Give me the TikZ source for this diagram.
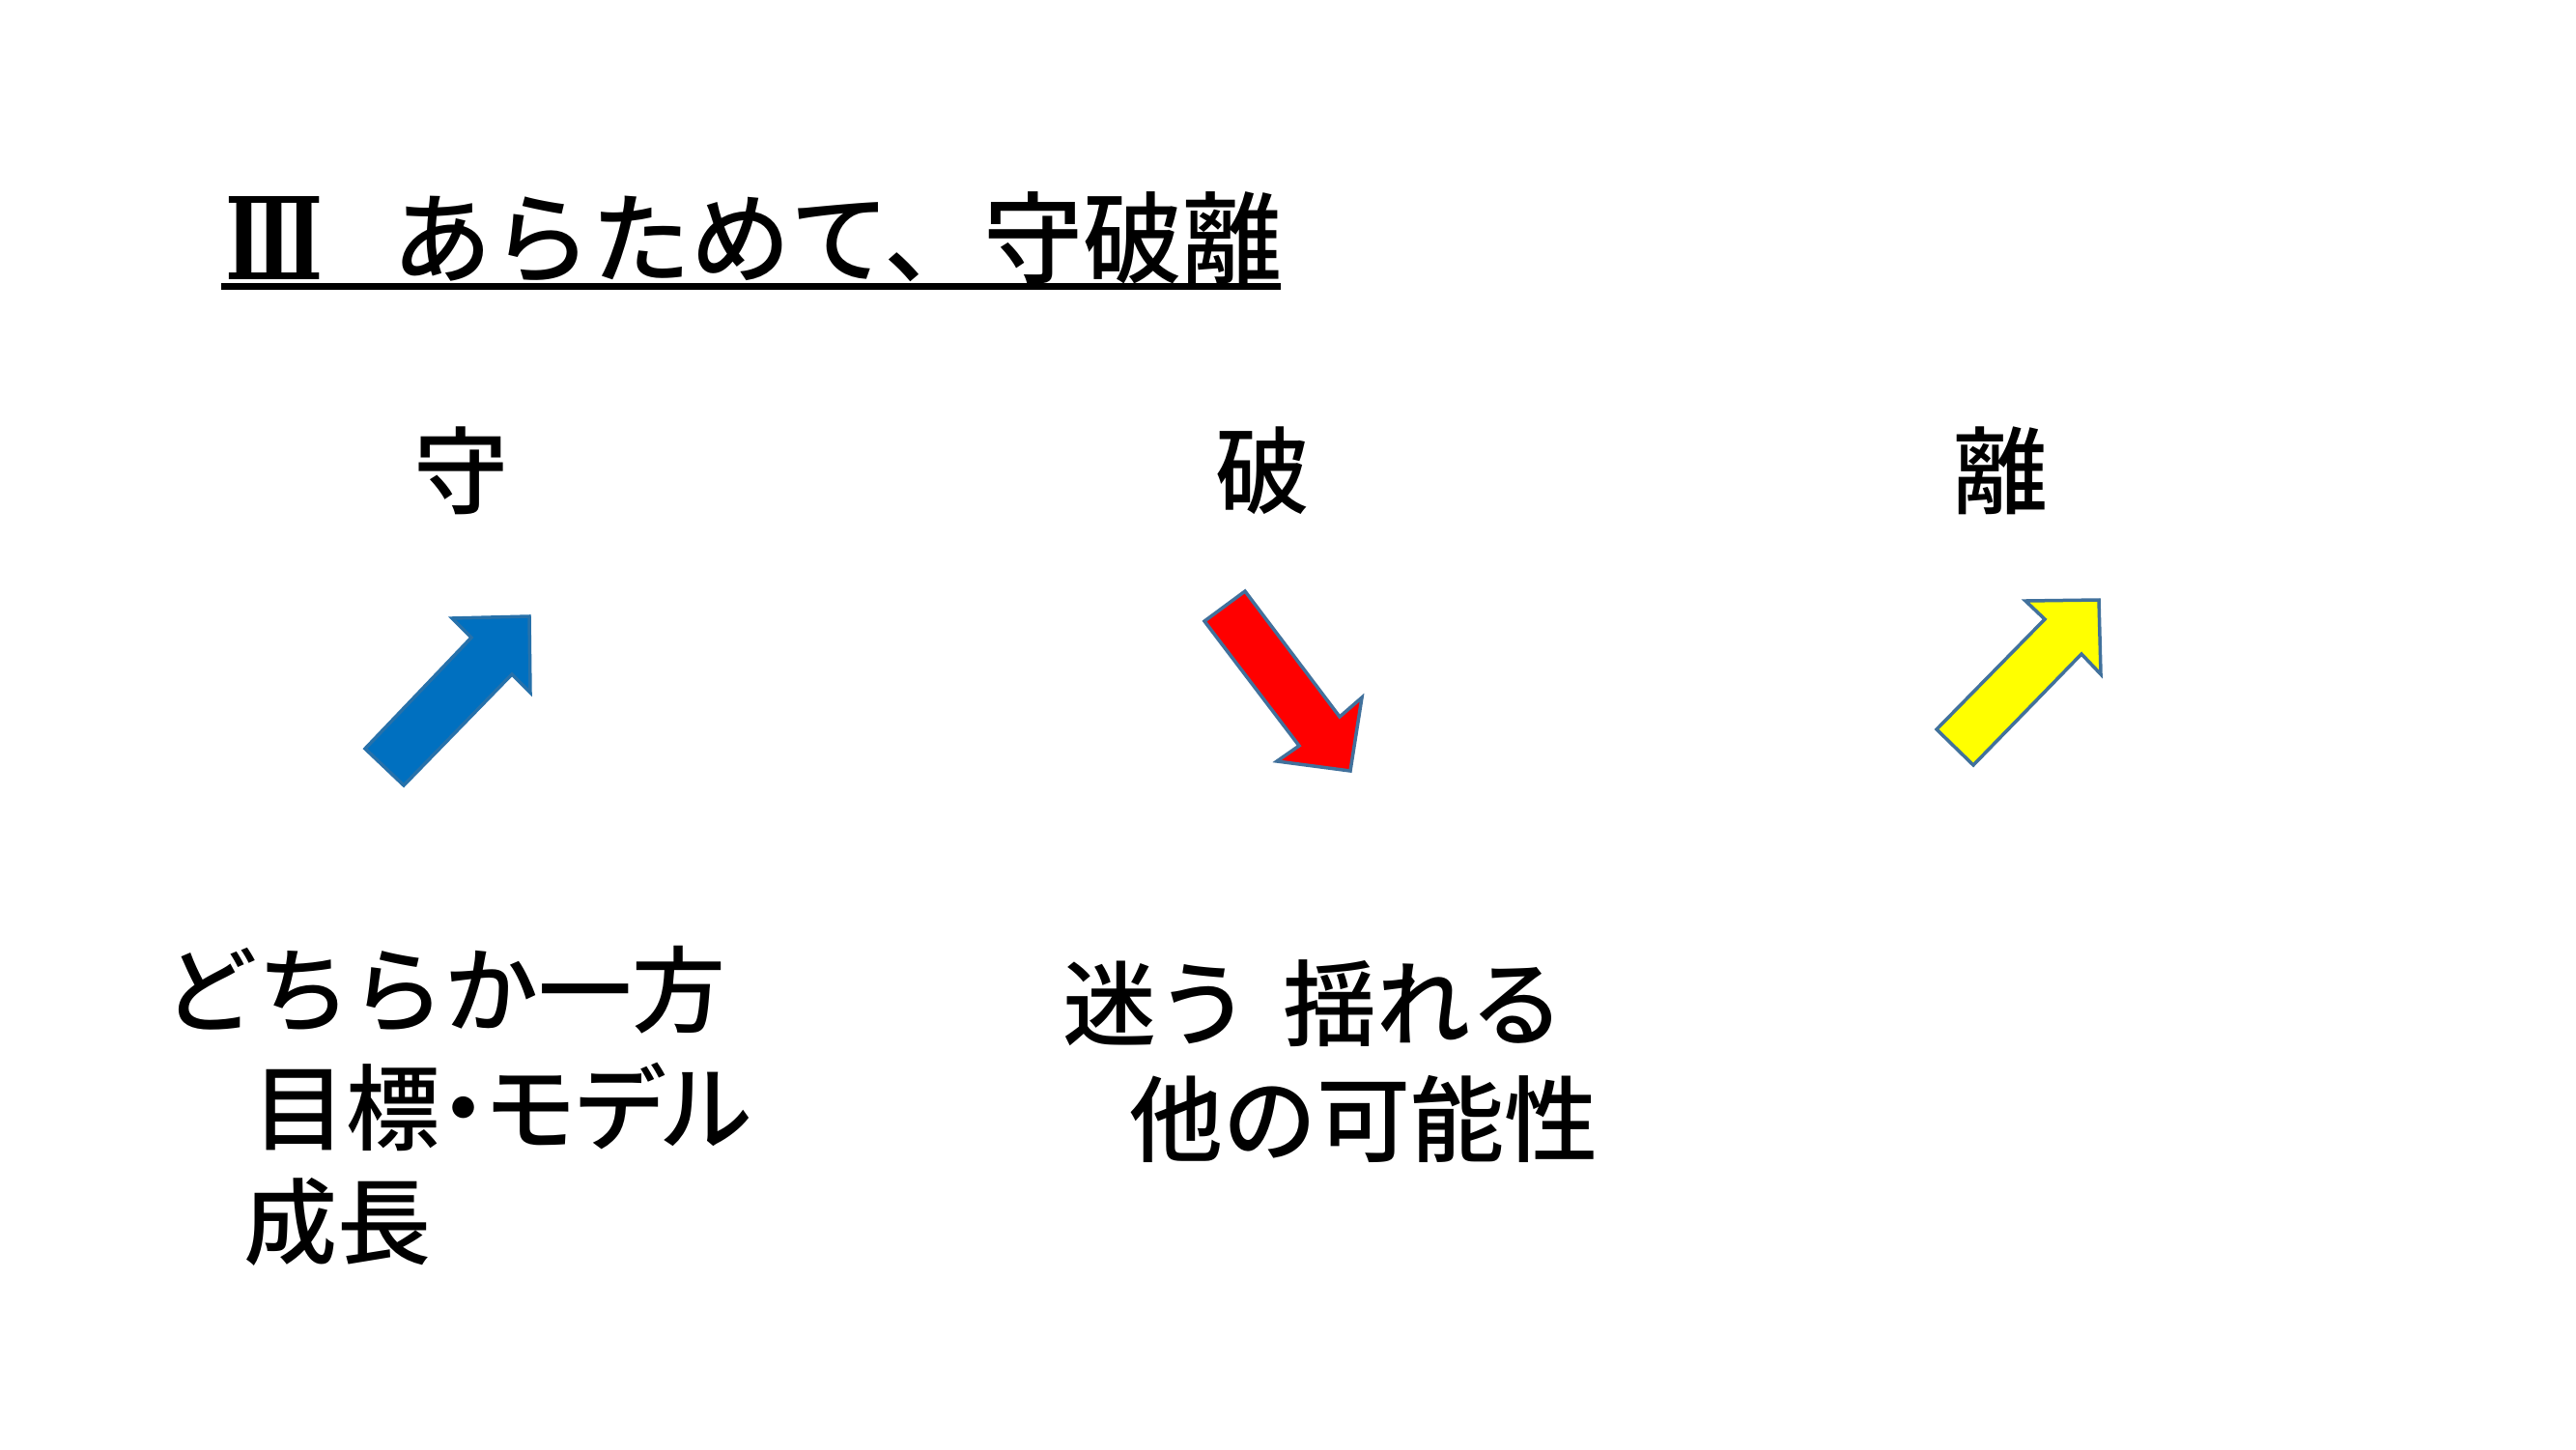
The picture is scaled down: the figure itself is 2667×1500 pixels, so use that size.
\documentclass[tikz,border=0pt]{standalone}
\usepackage{fontspec}
\newfontfamily\jp[UprightFont={* Medium}]{Noto Sans CJK JP}
\newfontfamily\jpp[UprightFont={* Medium},RawFeature=+palt]{Noto Sans CJK JP}
\newfontfamily\romanfont{DejaVu Serif}
\definecolor{outl}{RGB}{65,113,156}
\definecolor{bluefill}{RGB}{0,112,192}
\definecolor{redfill}{RGB}{255,0,0}
\definecolor{yelfill}{RGB}{255,255,0}
\tikzset{
  txt/.style={inner sep=0pt, outer sep=0pt},
  ttl/.style={txt, text height=90pt, text depth=12pt, font=\jp\fontsize{103}{120}\selectfont},
  hd/.style={txt, text height=86pt, text depth=12pt, font=\jp\fontsize{98}{118}\selectfont},
  body/.style={txt, text height=86pt, text depth=12pt, font=\jp\fontsize{97}{118}\selectfont},
  bodyp/.style={txt, text height=86pt, text depth=12pt, font=\jpp\fontsize{97}{118}\selectfont},
  arrowshape/.style={draw=outl, line width=3.5pt, line join=miter},
}
\begin{document}
\begin{tikzpicture}[x=1pt,y=-1pt]
\useasboundingbox (0,0) rectangle (2667,1500);
\fill[white] (0,0) rectangle (2667,1500);
% title
\node[txt, font=\romanfont\bfseries\fontsize{100}{120}\selectfont] (roman) at (284,246) {\scalebox{0.83}[1.18]{Ⅲ}};
\node[ttl, anchor=west] (title) at (406,246) {あらためて、守破離};
\coordinate (ulA) at (229,296);
\coordinate (ulB) at (1326,296);
\draw[line width=7pt] (ulA) -- (ulB);
% headings
\node[hd] (shu) at (477,487) {守};
\node[hd] (ha) at (1307,487) {破};
\node[hd] (ri) at (2071,487) {離};
% arrows
\filldraw[arrowshape, fill=bluefill, draw=outl!60!bluefill]
  (378,775) -- (488,660) -- (468,640) -- (548,638) -- (549,717) -- (530,698) -- (418,813) -- cycle;
\filldraw[arrowshape, fill=redfill]
  (1247,643) -- (1289,612) -- (1387,742) -- (1410,722) -- (1398,798) -- (1322,788) -- (1345,772) -- cycle;
\filldraw[arrowshape, fill=yelfill]
  (2005,755) -- (2117,641) -- (2097,622) -- (2173,621) -- (2175,698) -- (2155,677) -- (2043,792) -- cycle;
% lower texts
\node[body] (l1) at (460,1024) {どちらか一方};
\node[bodyp] (l2) at (520,1146) {目標・モデル};
\node[body] (l3) at (349,1264) {成長};
\node[body] (m1) at (1360,1038) {迷う\hspace{0.36em}揺れる};
\node[body] (m2) at (1412,1158) {他の可能性};
\end{tikzpicture}
\end{document}
